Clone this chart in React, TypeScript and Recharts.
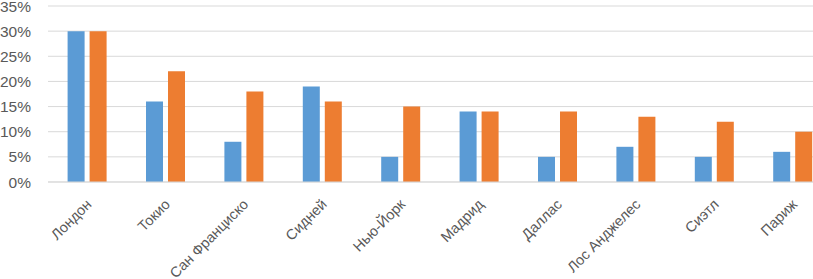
import { BarChart, Bar, XAxis, YAxis, CartesianGrid } from 'recharts'

const cities = ['Лондон', 'Токио', 'Сан Франциско', 'Сидней', 'Нью-Йорк', 'Мадрид', 'Даллас', 'Лос Анджелес', 'Сиэтл', 'Париж']
const blueValues = [30, 16, 8, 19, 5, 14, 5, 7, 5, 6]
const orangeValues = [30, 22, 18, 16, 15, 14, 14, 13, 12, 10]
const yTicks = [0, 5, 10, 15, 20, 25, 30, 35]

const data = cities.map((city, i) => ({ city, blue: blueValues[i], orange: orangeValues[i] }))

const FONT = '"Liberation Sans", Arial, sans-serif'

function CityTick({ x, y, payload }: any) {
  return (
    <g transform={`translate(${x - 2},${y + 8})`}>
      <text
        x={0}
        y={0}
        dy="0.71em"
        transform="rotate(-45)"
        textAnchor="end"
        fill="#595959"
        fontSize={14.5}
        fontFamily={FONT}
      >
        {payload.value}
      </text>
    </g>
  )
}

export default function App() {
  return (
    <div style={{ position: 'absolute', left: 0, top: 0, width: 813, height: 279, overflow: 'hidden', background: '#fff' }}>
      <BarChart
        width={832}
        height={279}
        data={data}
        margin={{ top: 6, right: 0, bottom: 0, left: 0 }}
        barCategoryGap="25%"
        barGap={5}
      >
        <CartesianGrid vertical={false} stroke="#D9D9D9" />
        <XAxis
          dataKey="city"
          interval={0}
          height={97}
          tickLine={false}
          axisLine={{ stroke: '#D9D9D9' }}
          tick={<CityTick />}
        />
        <YAxis
          width={48}
          domain={[0, 35]}
          ticks={yTicks}
          interval={0}
          tickFormatter={(v) => `${v}%`}
          axisLine={false}
          tickLine={false}
          tickSize={0}
          tickMargin={17}
          tick={{ fill: '#595959', fontSize: 15.5, fontFamily: FONT }}
        />
        <Bar dataKey="blue" fill="#5B9BD5" isAnimationActive={false} />
        <Bar dataKey="orange" fill="#ED7D31" isAnimationActive={false} />
      </BarChart>
    </div>
  )
}
